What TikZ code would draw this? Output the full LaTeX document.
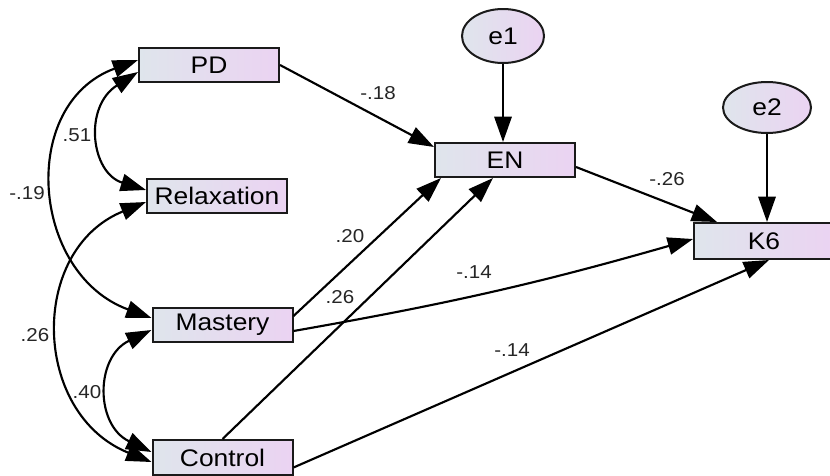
\documentclass[tikz,border=0pt]{standalone}
\usepackage{fontspec}
\setmainfont{Liberation Sans}
\newfontfamily\boxfont[FakeStretch=1.1]{Liberation Sans}
\usetikzlibrary{arrows.meta,calc,shapes.geometric}
\definecolor{lblue}{HTML}{DFE5EC}
\definecolor{lpurp}{HTML}{EBD3F2}
\definecolor{edgec}{HTML}{1A1A1A}
\begin{document}
\begin{tikzpicture}[x=0.75pt,y=-0.75pt,
  var/.style={draw=edgec, line width=1.5pt, left color=lblue, right color=lpurp,
    minimum width=105pt, minimum height=25.5pt, inner sep=0pt,
    font=\boxfont\fontsize{18}{20}\selectfont},
  err/.style={ellipse, draw=edgec, line width=1.5pt, left color=lblue, right color=lpurp,
    inner sep=0pt, font=\boxfont\fontsize{18}{20}\selectfont},
  arr/.style={draw=black, line width=1.6pt, -{Triangle[length=19pt,width=13pt]}},
  cov/.style={draw=black, line width=1.6pt, {Triangle[length=19pt,width=13pt]}-{Triangle[length=19pt,width=13pt]}},
  lab/.style={font=\boxfont\fontsize{14}{16}\selectfont, inner sep=0pt, text=black!85}]
\fill[white] (0,0) rectangle (830,475);
\useasboundingbox (0,0) rectangle (830,475);

% observed variables
\node[var] (PD) at (209,65) {PD};
\node[var] (Rel) at (217,195.5) {Relaxation};
\node[var] (Mas) at (222.5,325) {Mastery};
\node[var, minimum height=26.25pt] (Con) at (222.5,457.5) {Control};
\node[var, minimum height=25.5pt] (EN) at (505,160) {EN};
\node[var, minimum height=27pt] (K6) at (764,241) {K6};

% error terms
\node[err, minimum width=61.5pt, minimum height=40.5pt] (e1) at (503,36) {e1};
\node[err, minimum width=66pt, minimum height=38.25pt] (e2) at (767,107.5) {e2};

% regression paths
\draw[arr] (PD.east) -- ($(EN.west)+(0,-13)$);
\draw[arr] (e1.south) -- (e1.south |- EN.north);
\draw[arr] ($(EN.east)+(0,7)$) -- ($(K6.north west)+(24,0)$);
\draw[arr] (e2.south) -- (e2.south |- K6.north);
\draw[arr] ($(Mas.east)+(0,-9)$) -- ($(EN.south west)+(7,0)$);
\draw[arr] (Con.north) -- ($(EN.south)+(-12,0)$);
\draw[arr] ($(Mas.east)+(0,6)$) to[bend right=3] ($(K6.west)+(0,-2)$);
\draw[arr] ($(Con.east)+(0,10)$) -- ($(K6.south)+(5,0)$);

% covariances
\coordinate (p1a) at ($(PD.west)+(0,7)$);
\coordinate (p1b) at ($(Rel.west)+(0,-5.5)$);
\draw[cov] (p1a) .. controls (83,107) and (91,173) .. (p1b);
\coordinate (p2a) at ($(PD.west)+(0,-5)$);
\coordinate (p2b) at ($(Mas.west)+(0,-7)$);
\draw[cov] (p2a) .. controls (18,104) and (31,274) .. (p2b);
\coordinate (p3a) at ($(Rel.west)+(0,6.5)$);
\coordinate (p3b) at ($(Con.west)+(0,4.5)$);
\draw[cov] (p3a) .. controls (28,250) and (32,414) .. (p3b);
\coordinate (p4a) at ($(Mas.west)+(0,5)$);
\coordinate (p4b) at ($(Con.west)+(0,-5.5)$);
\draw[cov] (p4a) .. controls (95,357) and (95,425) .. (p4b);

% labels
\node[lab] (l1) at (378,93) {-.18};
\node[lab] (l2) at (667,179) {-.26};
\node[lab] (l3) at (350,236) {.20};
\node[lab] (l4) at (340,297) {.26};
\node[lab] (l5) at (474,272) {-.14};
\node[lab] (l6) at (512,350) {-.14};
\node[lab] (l7) at (77,135) {.51};
\node[lab] (l8) at (27,193) {-.19};
\node[lab] (l9) at (35,335) {.26};
\node[lab] (l10) at (87,392) {.40};
\end{tikzpicture}
\end{document}
